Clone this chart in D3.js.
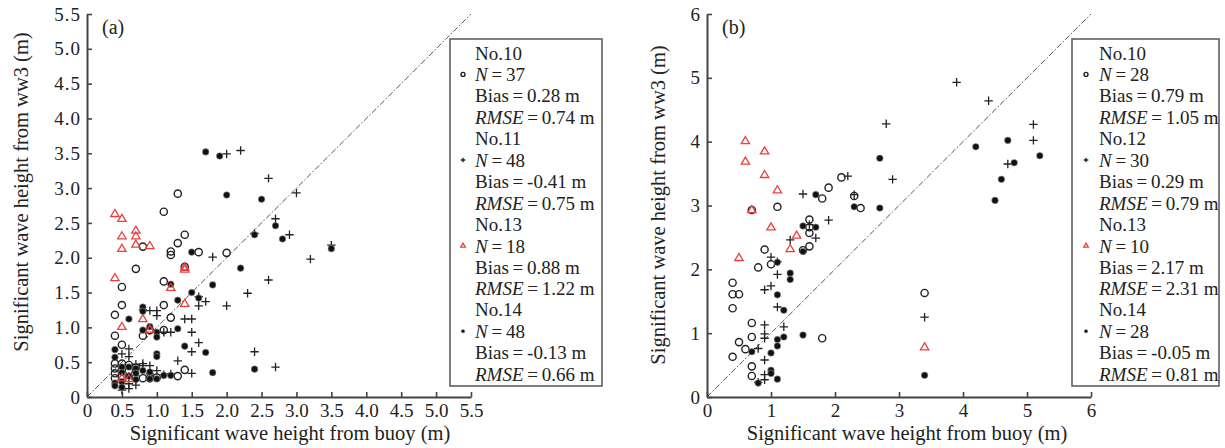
<!DOCTYPE html>
<html><head><meta charset="utf-8">
<script src="https://cdn.jsdelivr.net/npm/d3@7"></script>
<style>
body{margin:0;background:#fff;}
text{font-family:"Liberation Serif","Times New Roman",serif;fill:#222;}
</style></head><body>
<svg id="c" width="1225" height="448"></svg>
<script>
// ---------- DATA ----------
const aTickVals = [0,0.5,1,1.5,2,2.5,3,3.5,4,4.5,5,5.5];
const aTickLabels = ["0","0.5","1.0","1.5","2.0","2.5","3.0","3.5","4.0","4.5","5.0","5.5"];
const bTickVals = [0,1,2,3,4,5,6];
const bTickLabels = ["0","1","2","3","4","5","6"];

// Panel (a)
const aNo10 = [[0.4,0.48],[0.4,0.41],[0.4,0.34],[0.4,0.88],[0.4,1.18],[0.5,0.48],[0.5,0.75],[0.5,1.32],[0.5,1.58],
  [0.7,1.84],[0.8,2.16],[0.8,0.88],[0.8,0.27],[1.1,2.66],[1.3,2.92],[1.3,2.21],[1.4,2.33],[1.2,2.09],[1.2,2.04],
  [1.4,1.87],[1.6,2.08],[2.0,2.07],[1.1,1.66],[1.1,1.32],[1.2,1.14],[1.1,0.96],[1.4,0.39],[1.3,0.30],[0.6,0.46],
  [0.7,0.28],[0.9,0.27],[0.6,0.38],[0.5,0.30],[0.7,0.42],[1.0,0.28],[0.9,0.96],[0.4,0.27]];
const aNo11 = [[2.0,3.49],[2.2,3.54],[2.6,3.14],[3.0,2.93],[2.7,2.56],[2.9,2.33],[3.2,1.98],[2.6,1.68],[2.3,1.49],
  [2.0,1.31],[1.8,2.01],[1.7,1.37],[1.6,1.31],[1.5,1.12],[1.5,0.93],[1.6,0.78],[1.5,0.65],[1.3,0.52],[1.5,0.34],
  [1.2,0.33],[1.1,0.32],[1.2,0.93],[0.9,1.24],[1.0,1.24],[1.0,1.17],[2.4,0.65],[2.7,0.43],[0.6,0.69],[0.6,0.58],
  [0.8,0.48],[0.8,0.45],[0.9,0.33],[1.0,0.38],[0.6,0.19],[0.7,0.17],[0.5,0.10],[3.5,2.18],[0.6,0.30],[0.7,0.25],
  [0.9,0.45],[1.6,1.44],[2.4,2.35],[0.6,0.12],[0.5,0.62],[0.7,0.47],[1.1,0.93],[1.4,1.12],[0.8,1.25]];
const aNo13 = [[0.4,2.63],[0.5,2.56],[0.5,2.31],[0.5,2.13],[0.7,2.39],[0.7,2.31],[0.7,2.19],[0.9,2.17],[0.4,1.71],
  [1.2,1.57],[1.4,1.83],[1.4,1.34],[0.5,1.01],[0.8,1.12],[0.9,0.97],[0.5,0.27],[0.6,0.26],[1.4,1.86]];
const aNo14 = [[1.7,3.52],[1.9,3.46],[2.0,2.90],[2.5,2.84],[2.4,2.33],[2.7,2.46],[2.8,2.27],[2.2,1.85],[1.8,1.61],
  [1.5,1.50],[1.5,2.08],[1.6,1.42],[1.3,1.39],[1.2,1.62],[0.8,1.29],[0.8,1.23],[0.6,1.12],[0.8,0.96],[0.9,1.01],
  [1.0,0.93],[1.0,0.86],[1.3,0.98],[1.4,0.73],[1.7,0.64],[1.0,0.62],[1.0,0.58],[1.8,0.35],[2.4,0.40],[0.4,0.68],
  [0.4,0.57],[0.5,0.43],[0.6,0.43],[0.7,0.41],[0.9,0.36],[0.9,0.26],[1.0,0.26],[1.1,0.31],[0.4,0.20],[0.4,0.16],
  [0.5,0.22],[0.5,0.14],[0.7,0.34],[3.5,2.13],[0.6,0.30],[0.8,0.38],[1.2,0.31],[0.7,0.25],[0.5,0.35]];

// Panel (b)
const bNo10 = [[0.7,2.93],[1.1,2.98],[0.9,2.31],[0.8,2.03],[1.0,2.08],[0.4,1.79],[0.4,1.61],[0.5,1.61],[0.4,1.39],
  [0.7,1.16],[0.7,0.94],[0.5,0.86],[0.6,0.75],[0.4,0.63],[0.7,0.48],[0.7,0.33],[1.8,0.92],[1.6,2.78],[1.6,2.66],
  [1.6,2.57],[1.6,2.36],[2.4,2.96],[1.8,3.11],[1.9,3.28],[2.1,3.44],[2.3,3.15],[3.4,1.63],[1.5,2.30]];
const bNo12 = [[1.0,2.19],[1.1,1.92],[0.9,1.68],[1.0,1.74],[1.1,1.41],[1.2,1.10],[0.9,1.13],[0.9,0.99],[0.9,0.92],
  [0.8,0.76],[0.9,0.58],[0.9,0.27],[0.8,0.23],[1.3,2.46],[1.7,2.49],[1.9,2.77],[1.5,3.18],[2.2,3.46],[2.3,3.17],
  [2.8,4.28],[2.9,3.41],[3.9,4.93],[4.4,4.64],[5.1,4.27],[5.1,4.02],[4.7,3.65],[3.4,1.25],[1.6,2.70],[1.1,2.12],[0.9,0.35]];
const bNo13 = [[0.6,4.01],[0.6,3.69],[0.9,3.85],[0.9,3.48],[1.1,3.24],[0.7,2.93],[1.0,2.66],[0.5,2.18],[1.4,2.53],
  [1.3,2.32],[3.4,0.78]];
const bNo14 = [[1.7,3.17],[2.3,2.98],[1.5,2.28],[1.1,2.11],[1.3,1.94],[1.3,1.84],[1.1,1.60],[1.2,1.36],[1.2,0.94],
  [1.1,0.90],[1.1,0.80],[1.5,0.97],[1.0,0.69],[0.7,0.71],[1.0,0.42],[1.0,0.37],[1.1,0.28],[0.8,0.22],[1.5,2.68],
  [1.7,2.66],[2.7,3.74],[2.7,2.96],[4.2,3.92],[4.7,4.02],[4.8,3.67],[5.2,3.78],[4.6,3.41],[4.5,3.08],[3.4,0.34]];

const aLegend = [
  {name:"No.10", N:"37", bias:"0.28", rmse:"0.74", sym:"circle"},
  {name:"No.11", N:"48", bias:"-0.41", rmse:"0.75", sym:"cross"},
  {name:"No.13", N:"18", bias:"0.88", rmse:"1.22", sym:"tri"},
  {name:"No.14", N:"48", bias:"-0.13", rmse:"0.66", sym:"dot"}];
const bLegend = [
  {name:"No.10", N:"28", bias:"0.79", rmse:"1.05", sym:"circle"},
  {name:"No.12", N:"30", bias:"0.29", rmse:"0.79", sym:"cross"},
  {name:"No.13", N:"10", bias:"2.17", rmse:"2.31", sym:"tri"},
  {name:"No.14", N:"28", bias:"-0.05", rmse:"0.81", sym:"dot"}];

// ---------- DRAW ----------
const svg = d3.select("#c");
const RED = "#e8413c", INK = "#222", AX = "#444";

function drawMarker(g, sym, x, y, s) {
  s = s || 1;
  if (sym === "circle") {
    g.append("circle").attr("cx", x).attr("cy", y).attr("r", 3.6*s)
      .attr("fill", "none").attr("stroke", INK).attr("stroke-width", 1.4);
  } else if (sym === "cross") {
    g.append("path").attr("d", `M${x-4.2*s},${y}H${x+4.2*s}M${x},${y-4.2*s}V${y+4.2*s}`)
      .attr("stroke", INK).attr("stroke-width", 1.3).attr("fill", "none");
  } else if (sym === "tri") {
    const r = 4.4*s;
    g.append("path").attr("d", `M${x},${y-r}L${x+r*0.95},${y+r*0.6}L${x-r*0.95},${y+r*0.6}Z`)
      .attr("stroke", RED).attr("stroke-width", 1.3).attr("fill", "none");
  } else {
    g.append("circle").attr("cx", x).attr("cy", y).attr("r", 3.3*s)
      .attr("fill", "#111").attr("stroke", "#999").attr("stroke-width", 0.6);
  }
}

function panel(cfg) {
  const x = d3.scaleLinear().domain([0, cfg.max]).range([cfg.x0, cfg.x1]);
  const y = d3.scaleLinear().domain([0, cfg.max]).range([397, 14]);
  const g = svg.append("g");

  // 1:1 line
  g.append("line").attr("x1", x(0)).attr("y1", y(0)).attr("x2", x(cfg.max)).attr("y2", y(cfg.max))
    .attr("stroke", "#555").attr("stroke-width", 1).attr("stroke-dasharray", "6,2,1.5,2");

  // axes
  const xa = g.append("g").attr("transform", `translate(0,${y(0)})`)
    .call(d3.axisBottom(x).tickValues(cfg.ticks).tickFormat((d,i)=>cfg.labels[i])
      .tickSizeInner(-5).tickSizeOuter(0).tickPadding(7));
  const ya = g.append("g").attr("transform", `translate(${x(0)},0)`)
    .call(d3.axisLeft(y).tickValues(cfg.ticks).tickFormat((d,i)=>cfg.labels[i])
      .tickSizeInner(-5).tickSizeOuter(0).tickPadding(6));
  [xa, ya].forEach(a => {
    a.select(".domain").attr("stroke", AX).attr("stroke-width", 2);
    a.selectAll(".tick line").attr("stroke", AX).attr("stroke-width", 1.6);
    a.selectAll(".tick text").style("font-family", '"Liberation Serif",serif').style("font-size", "19px").attr("fill", "#222");
  });
  ya.selectAll(".tick text").attr("letter-spacing", "1px");

  // points
  const pts = g.append("g");
  cfg.series.forEach(s => {
    s.data.forEach(d => drawMarker(pts, s.sym, x(d[0]), y(d[1])));
  });

  // panel label
  g.append("text").attr("x", cfg.x0 + 15).attr("y", 34).style("font-size", "20px").text(cfg.tag);

  // axis titles
  g.append("text").attr("x", cfg.xtx).attr("y", 440).attr("text-anchor", "middle")
    .style("font-size", "20.5px").text("Significant wave height from buoy (m)");
  g.append("text").attr("transform", `translate(${cfg.ytx},${cfg.yty}) rotate(-90)`)
    .attr("text-anchor", "middle").attr("dominant-baseline", "central")
    .style("font-size", "20.5px").text("Significant wave height from ww3 (m)");

  // legend
  const L = cfg.leg;
  g.append("rect").attr("x", L.x).attr("y", 39).attr("width", L.w).attr("height", 347)
    .attr("fill", "#fff").attr("stroke", "#555").attr("stroke-width", 1.5);
  const step = 21.4;
  let line = 0;
  cfg.legend.forEach(e => {
    const yy = i => 53 + i*step;
    const t1 = g.append("text").attr("x", L.tx).attr("y", yy(line)).attr("dominant-baseline","central").style("font-size","19px");
    t1.text(e.name);
    const t2 = g.append("text").attr("x", L.tx).attr("y", yy(line+1)).attr("dominant-baseline","central").style("font-size","19px");
    t2.append("tspan").style("font-style","italic").text("N");
    t2.append("tspan").text("\u2009=\u2009" + e.N);
    drawMarker(g, e.sym, L.mx, yy(line+1), 0.55);
    const t3 = g.append("text").attr("x", L.tx).attr("y", yy(line+2)).attr("dominant-baseline","central").style("font-size","19px");
    t3.text("Bias\u2009=\u2009" + e.bias + " m");
    const t4 = g.append("text").attr("x", L.tx).attr("y", yy(line+3)).attr("dominant-baseline","central").style("font-size","19px");
    t4.append("tspan").style("font-style","italic").text("RMSE");
    t4.append("tspan").text("\u2009=\u2009" + e.rmse + " m");
    line += 4;
  });
}

panel({max:5.5, x0:87, x1:471, ticks:aTickVals, labels:aTickLabels, tag:"(a)", xtx:290, ytx:21, yty:192,
  leg:{x:450, w:152, tx:475, mx:463}, legend:aLegend,
  series:[{data:aNo10, sym:"circle"},{data:aNo11, sym:"cross"},{data:aNo14, sym:"dot"},{data:aNo13, sym:"tri"}]});
panel({max:6, x0:707, x1:1091, ticks:bTickVals, labels:bTickLabels, tag:"(b)", xtx:907, ytx:658, yty:205,
  leg:{x:1072, w:147, tx:1099, mx:1086}, legend:bLegend,
  series:[{data:bNo10, sym:"circle"},{data:bNo12, sym:"cross"},{data:bNo14, sym:"dot"},{data:bNo13, sym:"tri"}]});
</script></body></html>
